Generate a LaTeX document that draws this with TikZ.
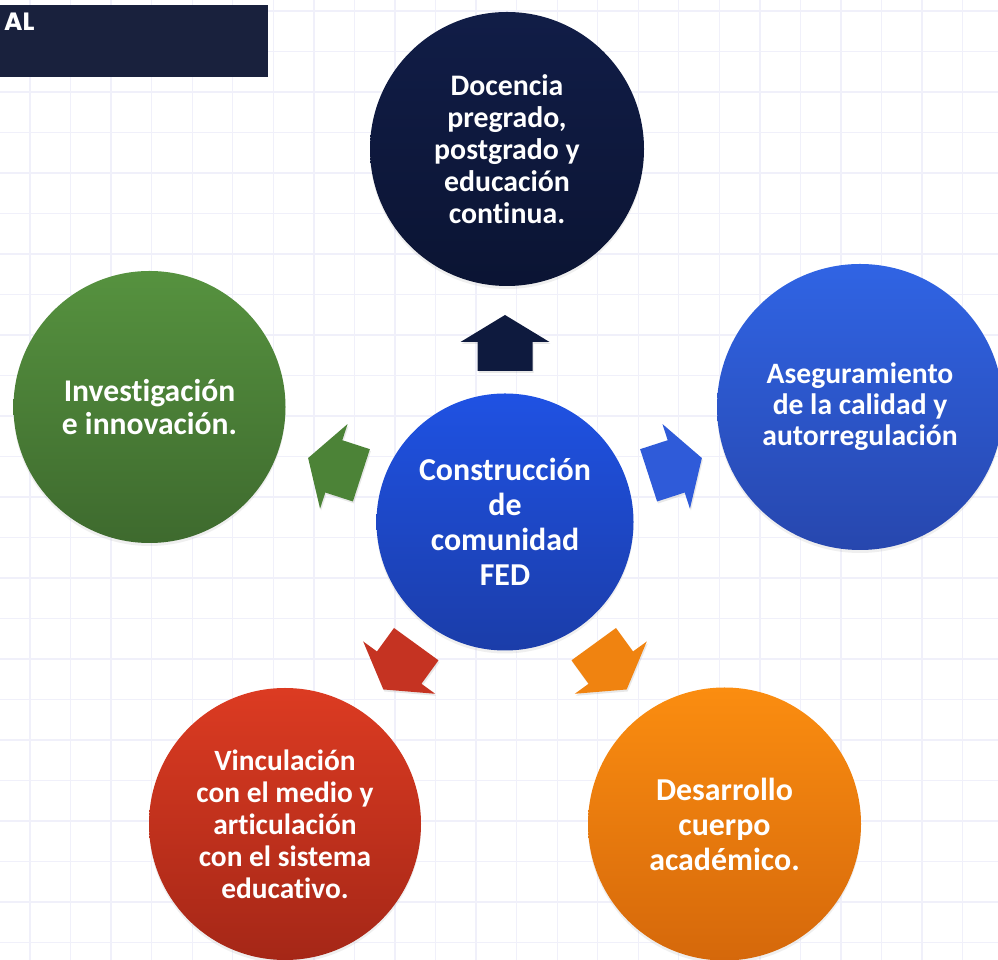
\documentclass[tikz,border=0pt]{standalone}
\usepackage{fontspec}
\setmainfont{Carlito}[Ligatures=NoCommon]
\newfontfamily\alfont{Poppins}
\usetikzlibrary{shadows}
\definecolor{gridc}{HTML}{F0F0FA}
\definecolor{hdrc}{HTML}{19213D}
\definecolor{navyT}{HTML}{111D47}
\definecolor{navyB}{HTML}{0B1433}
\definecolor{ctrT}{HTML}{1F52E3}
\definecolor{ctrB}{HTML}{1B3DA9}
\definecolor{blueT}{HTML}{3064E4}
\definecolor{blueB}{HTML}{2747AE}
\definecolor{greenT}{HTML}{56923F}
\definecolor{greenB}{HTML}{3E6A2E}
\definecolor{redT}{HTML}{DC3B22}
\definecolor{redB}{HTML}{A52717}
\definecolor{orangeT}{HTML}{FB8D10}
\definecolor{orangeB}{HTML}{D5680B}
\definecolor{navyA}{HTML}{0E1A3E}
\definecolor{greenA}{HTML}{4C8337}
\definecolor{blueA}{HTML}{2F5BD9}
\definecolor{redA}{HTML}{C53322}
\definecolor{orangeA}{HTML}{F08310}
\begin{document}
\begin{tikzpicture}[x=1pt,y=1pt,
  bubble/.style={circle, inner sep=0pt, align=center, text=white,
    drop shadow={opacity=0.12, shadow xshift=0pt, shadow yshift=-3pt}},
  blockarrow/.style={drop shadow={opacity=0.18, shadow xshift=1pt, shadow yshift=-2pt}},
  gridline/.style={gridc, line width=1.3pt}]
\useasboundingbox (0,0) rectangle (998,960);
\fill[white] (0,0) rectangle (998,960);
\foreach \k in {0,...,23} {\draw[gridline] ({30+40.55*\k},0) -- ({30+40.55*\k},960);}
\foreach \k in {0,...,23} {\draw[gridline] (0,{949-40.5*\k}) -- (998,{949-40.5*\k});}

\node[fill=hdrc, minimum width=268, minimum height=72, anchor=north west, inner sep=0pt] (hdr) at (0,955) {};
\node[anchor=base west, inner sep=0pt, text=white, font=\alfont\bfseries\fontsize{25}{30}\selectfont] (al) at (4,929.5) {AL};

\node[bubble, minimum size=274, top color=navyT, bottom color=navyB,
  font=\bfseries\fontsize{29.8}{32}\selectfont] (doc) at (507,811)
  {Docencia\\pregrado,\\postgrado y\\educación\\continua.};
\node[bubble, minimum size=286, top color=blueT, bottom color=blueB,
  font=\bfseries\fontsize{29.6}{31}\selectfont] (ase) at (860,553)
  {Aseguramiento\\de la calidad y\\autorregulación};
\node[bubble, minimum size=272, top color=greenT, bottom color=greenB,
  font=\bfseries\fontsize{31.6}{33}\selectfont] (inv) at (149.5,553)
  {Investigación\\e innovación.};
\node[bubble, minimum size=272, top color=redT, bottom color=redB,
  font=\bfseries\fontsize{29.4}{32}\selectfont] (vin) at (285,136)
  {Vinculación\\con el medio y\\articulación\\con el sistema\\educativo.};
\node[bubble, minimum size=273, top color=orangeT, bottom color=orangeB,
  font=\bfseries\fontsize{31.9}{35}\selectfont] (des) at (724.5,136)
  {Desarrollo\\cuerpo\\académico.};
\node[bubble, minimum size=257, top color=ctrT, bottom color=ctrB,
  font=\bfseries\fontsize{31.9}{35}\selectfont] (ctr) at (505,438)
  {Construcción\\de\\comunidad\\FED};

\foreach \ang/\col in {90/navyA, 162/greenA, 18/blueA, 234/redA, 306/orangeA} {
  \fill[\col, blockarrow, shift={(ctr.center)}, rotate=\ang]
    (151,-27.5) -- (180,-27.5) -- (180,-44.5) -- (207,0) -- (180,44.5) -- (180,27.5) -- (151,27.5) -- cycle;
}
\end{tikzpicture}
\end{document}
